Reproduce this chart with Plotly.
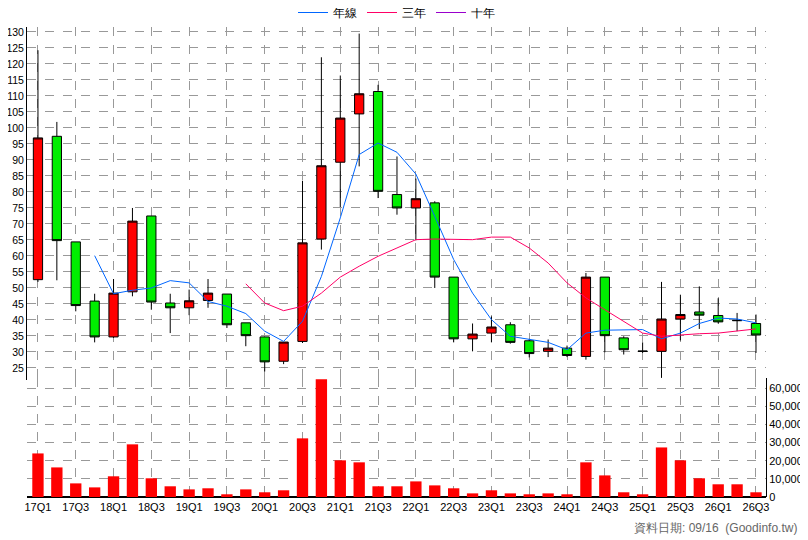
import plotly.graph_objects as go

quarters = ["17Q1", "17Q2", "17Q3", "17Q4", "18Q1", "18Q2", "18Q3", "18Q4",
            "19Q1", "19Q2", "19Q3", "19Q4", "20Q1", "20Q2", "20Q3", "20Q4",
            "21Q1", "21Q2", "21Q3", "21Q4", "22Q1", "22Q2", "22Q3", "22Q4",
            "23Q1", "23Q2", "23Q3", "23Q4", "24Q1", "24Q2", "24Q3", "24Q4",
            "25Q1", "25Q2", "25Q3", "25Q4", "26Q1", "26Q2", "26Q3"]

open_ = [52.6, 97.4, 64.4, 45.9, 34.7, 48.8, 72.5, 45.3, 43.8, 46.1, 48.1, 39.1, 34.7,
         27.1, 33.3, 65.3, 89.3, 104.4, 111.4, 79.2, 75.0, 76.6, 53.4, 34.1, 35.9, 38.5,
         33.5, 30.2, 31.2, 28.6, 53.4, 34.4, 30.3, 30.2, 40.3, 42.5, 41.4, 39.9, 38.9]
close = [96.9, 64.8, 44.5, 34.7, 48.4, 70.9, 45.6, 43.8, 46.0, 48.4, 38.5, 35.1, 26.9,
         33.1, 64.1, 88.2, 103.1, 110.7, 80.2, 75.0, 77.9, 53.4, 34.1, 35.6, 37.8, 33.0,
         29.5, 31.2, 28.9, 53.4, 35.1, 30.7, 30.2, 40.3, 41.7, 41.5, 39.4, 39.8, 35.3]
high = [124.3, 101.9, 64.4, 48.2, 52.8, 75.0, 72.5, 48.2, 49.5, 52.8, 48.1, 39.1, 34.7,
        33.1, 83.5, 122.1, 116.4, 129.5, 113.5, 91.1, 84.2, 77.1, 53.4, 38.9, 41.1, 39.3,
        34.1, 33.9, 32.0, 54.7, 53.4, 34.9, 33.0, 51.9, 47.9, 50.5, 46.8, 42.2, 41.7]
low = [51.9, 52.4, 42.7, 33.0, 34.4, 47.4, 43.2, 35.9, 41.5, 43.8, 37.5, 31.8, 23.9,
       26.2, 32.8, 62.0, 75.3, 88.0, 78.1, 72.9, 64.9, 50.0, 33.0, 30.2, 33.0, 32.6,
       28.3, 28.4, 28.4, 27.6, 29.9, 29.2, 29.7, 21.9, 33.6, 37.2, 38.9, 36.5, 29.7]

ma_year = [None, None, None, 60.1, 48.2, 49.3, 50.0, 52.3, 51.6, 45.8, 44.3, 42.0, 36.5,
           33.3, 39.6, 53.6, 71.9, 91.7, 95.3, 92.4, 85.6, 72.4, 58.9, 48.4, 40.1, 34.9,
           33.9, 33.0, 30.7, 35.9, 36.8, 36.8, 37.0, 34.1, 35.9, 38.9, 40.6, 40.3, 39.1]
ma_3y = [None] * 11 + [51.3, 45.3, 42.9, 44.3, 48.4, 53.4, 56.8, 59.9, 62.5, 65.1,
         65.3, 65.1, 65.1, 65.9, 65.9, 62.5, 57.8, 51.6, 46.9, 43.2, 39.6, 35.9, 34.9,
         35.4, 35.7, 35.9, 36.5, 37.2]
ma_10y = [None] * 39

volume = [24000, 16300, 7500, 5300, 11400, 29000, 10300, 5900, 4200, 4800, 1500, 4200,
          2600, 3700, 32300, 64800, 20200, 19100, 5900, 5900, 8600, 6400, 4800, 2000,
          3700, 2000, 1500, 2000, 1500, 19100, 11900, 2600, 1500, 27300, 20200, 10300,
          7000, 7000, 2600]

x = list(range(len(quarters)))
font = "Liberation Sans, Arial, sans-serif"

fig = go.Figure()
fig.add_trace(go.Bar(x=x, y=volume, marker=dict(color="#ff0000", line_width=0),
                     width=0.6, yaxis="y2", showlegend=False, hoverinfo="y"))
fig.add_trace(go.Candlestick(
    x=x, open=open_, high=high, low=low, close=close, showlegend=False,
    increasing=dict(fillcolor="#ff0000", line=dict(color="black", width=1)),
    decreasing=dict(fillcolor="#00ee00", line=dict(color="black", width=1)),
    whiskerwidth=0,
))
fig.add_trace(go.Scatter(x=x, y=ma_year, mode="lines", name="年線",
                         line=dict(color="#0066ff", width=1)))
fig.add_trace(go.Scatter(x=x, y=ma_3y, mode="lines", name="三年",
                         line=dict(color="#ff0066", width=1)))
fig.add_trace(go.Scatter(x=x, y=ma_10y, mode="lines", name="十年",
                         line=dict(color="#9900cc", width=1)))

grid = dict(showgrid=True, gridcolor="#999999", griddash="dash", gridwidth=1)
fig.update_layout(
    width=800, height=532,
    margin=dict(l=19, r=42, t=19, b=43, autoexpand=False),
    paper_bgcolor="white", plot_bgcolor="white",
    font=dict(family=font, size=11, color="black"),
    legend=dict(orientation="h", x=0.5, xanchor="center", y=1.0, yanchor="bottom",
                font=dict(size=12), bgcolor="rgba(0,0,0,0)", itemwidth=30),
    xaxis=dict(range=[-0.58, 38.53], tickmode="array", tickvals=x[::2],
               ticktext=quarters[::2], rangeslider=dict(visible=False),
               anchor="free", position=0, automargin=False,
               showline=True, linecolor="black", linewidth=1, mirror=True,
               ticks="", tickfont=dict(size=11), **grid),
    yaxis=dict(domain=[0.249, 1], range=[21.25, 131.56], tickvals=list(range(25, 131, 5)),
               side="left", ticks="", showline=True, linecolor="black", automargin=False,
               tickfont=dict(size=10.5), ticklabelstandoff=0, zeroline=False, **grid),
    yaxis2=dict(domain=[0, 0.253], range=[0, 65500], anchor="x", side="right",
                tickvals=list(range(0, 60001, 10000)), tickformat=",", ticks="",
                automargin=False, showline=True, linecolor="black",
                zeroline=True, zerolinecolor="black",
                zerolinewidth=2, tickfont=dict(size=11), **grid),
    annotations=[dict(text="資料日期: 09/16  (Goodinfo.tw)", xref="paper", yref="paper",
                      x=1.045, y=-0.066, xanchor="right", yanchor="middle", showarrow=False,
                      font=dict(size=12, color="#666666"))],
)

fig.write_html("out.html")
